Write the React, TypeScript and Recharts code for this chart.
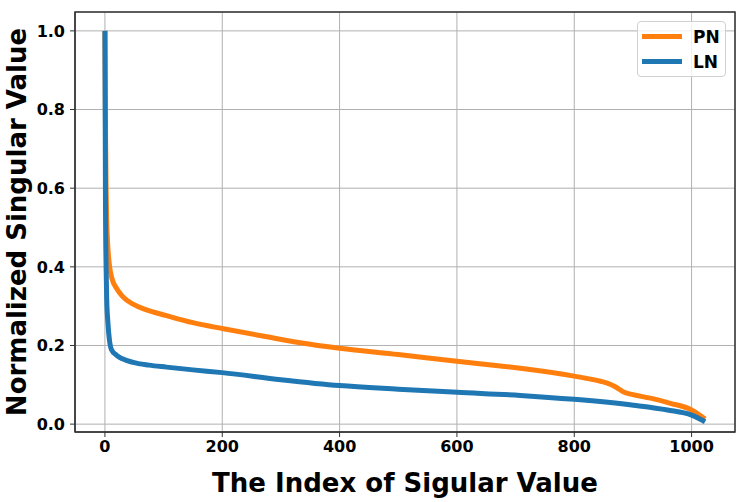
import React from "react";
import {
  LineChart,
  Line,
  XAxis,
  YAxis,
  CartesianGrid,
  ReferenceArea,
  Label,
} from "recharts";

// PN curve (orange)
const pnIndex = [0, 1, 2, 3, 5, 8, 12, 20, 30, 48, 70, 105, 150, 200, 276, 333, 400, 500, 600, 674, 708, 800, 845, 855, 870, 885, 900, 930, 964, 1000, 1023];
const pnValue = [1.0, 0.75, 0.6, 0.52, 0.45, 0.4, 0.37, 0.345, 0.325, 0.305, 0.291, 0.276, 0.258, 0.243, 0.222, 0.207, 0.193, 0.177, 0.16, 0.148, 0.142, 0.122, 0.109, 0.105, 0.095, 0.081, 0.075, 0.066, 0.053, 0.036, 0.013];

// LN curve (blue)
const lnIndex = [0, 1, 2, 3, 5, 8, 11, 20, 30, 48, 75, 105, 150, 200, 300, 400, 500, 600, 708, 800, 901, 959, 1000, 1023];
const lnValue = [1.0, 0.55, 0.4, 0.32, 0.26, 0.21, 0.19, 0.175, 0.166, 0.157, 0.15, 0.145, 0.138, 0.131, 0.113, 0.098, 0.089, 0.081, 0.073, 0.063, 0.048, 0.036, 0.023, 0.006];

const xTicks = [0, 200, 400, 600, 800, 1000];
const yTicks = [0, 0.2, 0.4, 0.6, 0.8, 1.0];

const seriesNames = ["PN", "LN"];
const seriesColors = ["#ff7f0e", "#1f77b4"];

const pnData = pnIndex.map((x, i) => ({ x, y: pnValue[i] }));
const lnData = lnIndex.map((x, i) => ({ x, y: lnValue[i] }));

const font = "'DejaVu Sans', sans-serif";
const X_DOMAIN: [number, number] = [-51, 1074];
const Y_DOMAIN: [number, number] = [-0.02, 1.048];

const LegendBox = () => (
  <div
    style={{
      position: "absolute",
      left: 637,
      top: 21,
      border: "1px solid #d0d0d0",
      borderRadius: 4,
      background: "rgba(255,255,255,0.8)",
      width: 89,
      height: 56,
      boxSizing: "border-box",
      fontFamily: font,
      fontWeight: "bold",
      fontSize: 17,
      paddingTop: 2,
    }}
  >
    {seriesNames.map((name, i) => (
      <div key={name} style={{ display: "flex", alignItems: "center", height: 25 }}>
        <div style={{ marginLeft: 4, width: 40, height: 5, background: seriesColors[i] }} />
        <span style={{ marginLeft: 11 }}>{name}</span>
      </div>
    ))}
  </div>
);

export default function App() {
  return (
    <div style={{ position: "absolute", left: 0, top: 0, width: 747, height: 502 }}>
      <LineChart
        width={747}
        height={502}
        margin={{ top: 12, right: 12, bottom: 0, left: 0 }}
        style={{ fontFamily: font }}
      >
        <CartesianGrid stroke="#b0b0b0" strokeWidth={1} />
        <XAxis
          dataKey="x"
          type="number"
          domain={X_DOMAIN}
          ticks={xTicks}
          allowDataOverflow
          height={70}
          tickSize={5}
          tickMargin={4}
          stroke="#333"
          tick={{ fill: "#000", fontSize: 16, fontWeight: "bold" }}
        >
          <Label
            value="The Index of Sigular Value"
            position="insideBottom"
            offset={10}
            style={{ fontSize: 26, fontWeight: "bold", fill: "#000" }}
          />
        </XAxis>
        <YAxis
          dataKey="y"
          type="number"
          domain={Y_DOMAIN}
          ticks={yTicks}
          allowDataOverflow
          width={75}
          tickSize={5}
          tickMargin={5}
          stroke="#333"
          tickFormatter={(v: number) => v.toFixed(1)}
          tick={{ fill: "#000", fontSize: 16, fontWeight: "bold" }}
        >
          <Label
            value="Normalized Singular Value"
            angle={-90}
            position="insideLeft"
            offset={17}
            style={{ textAnchor: "middle", fontSize: 26, fontWeight: "bold", fill: "#000" }}
          />
        </YAxis>
        <ReferenceArea
          x1={X_DOMAIN[0]}
          x2={X_DOMAIN[1]}
          y1={Y_DOMAIN[0]}
          y2={Y_DOMAIN[1]}
          fill="none"
          stroke="#333"
          strokeWidth={1.5}
          ifOverflow="extendDomain"
        />
        <Line
          data={pnData}
          dataKey="y"
          name="PN"
          type="monotone"
          stroke={seriesColors[0]}
          strokeWidth={5}
          dot={false}
          isAnimationActive={false}
        />
        <Line
          data={lnData}
          dataKey="y"
          name="LN"
          type="monotone"
          stroke={seriesColors[1]}
          strokeWidth={5}
          dot={false}
          isAnimationActive={false}
        />
      </LineChart>
      <LegendBox />
    </div>
  );
}
